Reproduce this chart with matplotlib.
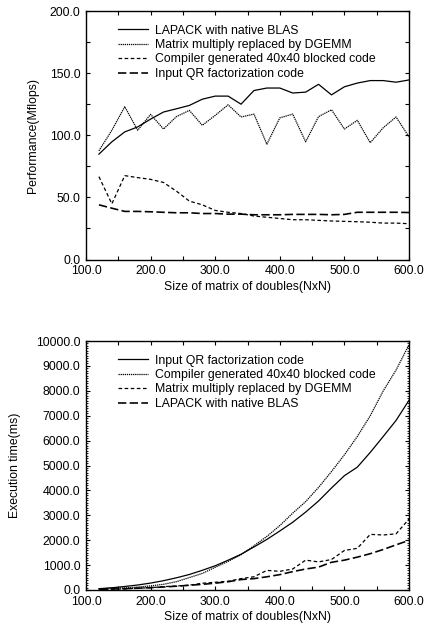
import matplotlib
matplotlib.use("Agg")
import matplotlib.pyplot as plt
from matplotlib.ticker import MultipleLocator, FormatStrFormatter

plt.rcParams['font.family'] = ['Liberation Sans', 'DejaVu Sans']
plt.rcParams['lines.scale_dashes'] = False

# ---- data ----
sizes = [120, 140, 160, 180, 200, 220, 240, 260, 280, 300, 320, 340, 360,
         380, 400, 420, 440, 460, 480, 500, 520, 540, 560, 580, 600]

# Performance (Mflops)
perf_lapack = [84.8, 94.7, 102.7, 106.7, 113.0, 118.7, 121.3, 124.0, 129.0, 131.5,
               131.5, 125.0, 136.0, 138.0, 138.0, 134.0, 134.7, 141.0, 132.5, 139.0,
               142.0, 144.0, 144.0, 142.7, 144.5]
perf_dgemm = [87.5, 104.0, 123.0, 104.0, 116.8, 105.0, 115.0, 120.0, 108.0, 116.0,
              124.5, 114.7, 117.0, 92.8, 114.0, 117.0, 94.7, 115.0, 120.5, 105.0,
              112.0, 94.0, 106.0, 114.7, 98.7]
perf_compiler = [66.7, 44.8, 67.5, 65.9, 64.5, 62.0, 55.0, 47.0, 44.0, 39.5,
                 38.0, 37.0, 35.0, 34.0, 33.0, 32.0, 32.0, 31.5, 31.0, 30.7,
                 30.4, 30.0, 29.3, 29.3, 28.8]
perf_input = [44.0, 41.3, 38.7, 38.7, 38.4, 38.0, 37.6, 37.6, 37.0, 37.0,
              36.5, 36.5, 36.0, 36.0, 36.0, 36.3, 36.3, 36.3, 36.0, 36.3,
              38.0, 38.0, 38.0, 38.0, 37.8]

# Execution time (ms)
time_input = [52, 89, 141, 201, 278, 374, 490, 623, 791, 973,
              1197, 1436, 1728, 2032, 2370, 2721, 3129, 3575, 4096, 4591,
              4934, 5525, 6162, 6811, 7619]
time_compiler = [35, 82, 81, 118, 165, 229, 335, 499, 665, 911,
                 1150, 1416, 1777, 2152, 2586, 3087, 3549, 4120, 4757, 5429,
                 6167, 6998, 7991, 8833, 9850]
time_dgemm = [26, 35, 44, 75, 91, 135, 160, 195, 271, 310,
              351, 457, 532, 788, 749, 844, 1199, 1128, 1224, 1587,
              1674, 2234, 2209, 2256, 2850]
time_lapack = [27, 39, 53, 73, 94, 120, 152, 189, 227, 274,
               332, 419, 457, 530, 618, 737, 843, 920, 1113, 1199,
               1320, 1458, 1626, 1814, 1993]

labels_top = ["LAPACK with native BLAS", "Matrix multiply replaced by DGEMM",
              "Compiler generated 40x40 blocked code", "Input QR factorization code"]
labels_bot = ["Input QR factorization code", "Compiler generated 40x40 blocked code",
              "Matrix multiply replaced by DGEMM", "LAPACK with native BLAS"]

# ---- styles ----
LW = 0.9
SOLID = '-'
DOTTED = (0, (0.9, 0.6))
SHORT = (0, (2.6, 1.8))
LONG = (0, (6.0, 2.4))
FS = 8.8

W, H = 424, 626
fig = plt.figure(figsize=(W / 100, H / 100), dpi=100)


def make_axes(top_px, bot_px):
    l, r = 86, 409
    return fig.add_axes([l / W, (H - bot_px) / H, (r - l) / W, (bot_px - top_px) / H])


def style_axes(ax, ymaj, ymin):
    ax.set_xlim(100, 600)
    ax.xaxis.set_major_locator(MultipleLocator(100))
    ax.xaxis.set_minor_locator(MultipleLocator(50))
    ax.yaxis.set_major_locator(MultipleLocator(ymaj))
    ax.yaxis.set_minor_locator(MultipleLocator(ymin))
    ax.xaxis.set_major_formatter(FormatStrFormatter('%.1f'))
    ax.yaxis.set_major_formatter(FormatStrFormatter('%.1f'))
    ax.tick_params(which='both', direction='in', top=True, right=True,
                   labelsize=FS, width=0.8, colors='black')
    ax.tick_params(which='major', length=3.0, pad=4)
    for s in ax.spines.values():
        s.set_linewidth(1.0)
        s.set_color('black')


legend_kw = dict(loc='upper left', frameon=False, fontsize=FS, handlelength=2.4,
                 handletextpad=0.6, labelspacing=0.2, borderaxespad=0.0,
                 bbox_to_anchor=(0.085, 0.965))

# ---- top chart ----
ax1 = make_axes(11, 259.5)
ax1.plot(sizes, perf_lapack, color='black', lw=LW, ls=SOLID, label=labels_top[0])
ax1.plot(sizes, perf_dgemm, color='black', lw=LW, ls=DOTTED, label=labels_top[1])
ax1.plot(sizes, perf_compiler, color='black', lw=LW, ls=SHORT, label=labels_top[2])
ax1.plot(sizes, perf_input, color='black', lw=LW * 1.3, ls=LONG, label=labels_top[3])
ax1.set_ylim(0, 200)
style_axes(ax1, 50, 25)
ax1.tick_params(which='minor', length=3.0, width=0.8)
ax1.set_xlabel("Size of matrix of doubles(NxN)", fontsize=FS, labelpad=2.5)
ax1.set_ylabel("Performance(Mflops)", fontsize=FS, labelpad=8)
ax1.legend(**legend_kw)

# ---- bottom chart ----
ax2 = make_axes(341, 590)
ax2.plot(sizes, time_input, color='black', lw=LW, ls=SOLID, label=labels_bot[0])
ax2.plot(sizes, time_compiler, color='black', lw=LW, ls=DOTTED, label=labels_bot[1])
ax2.plot(sizes, time_dgemm, color='black', lw=LW, ls=SHORT, label=labels_bot[2])
ax2.plot(sizes, time_lapack, color='black', lw=LW * 1.3, ls=LONG, label=labels_bot[3])
ax2.set_ylim(0, 10000)
style_axes(ax2, 1000, 100)
ax2.tick_params(which='minor', length=1.6, width=0.6)
ax2.tick_params(axis='x', which='minor', length=3.0, width=0.8)
ax2.set_xlabel("Size of matrix of doubles(NxN)", fontsize=FS, labelpad=2.5)
ax2.set_ylabel("Execution time(ms)", fontsize=FS, labelpad=11)
ax2.legend(**legend_kw)

fig.savefig("out.png", dpi=100)
